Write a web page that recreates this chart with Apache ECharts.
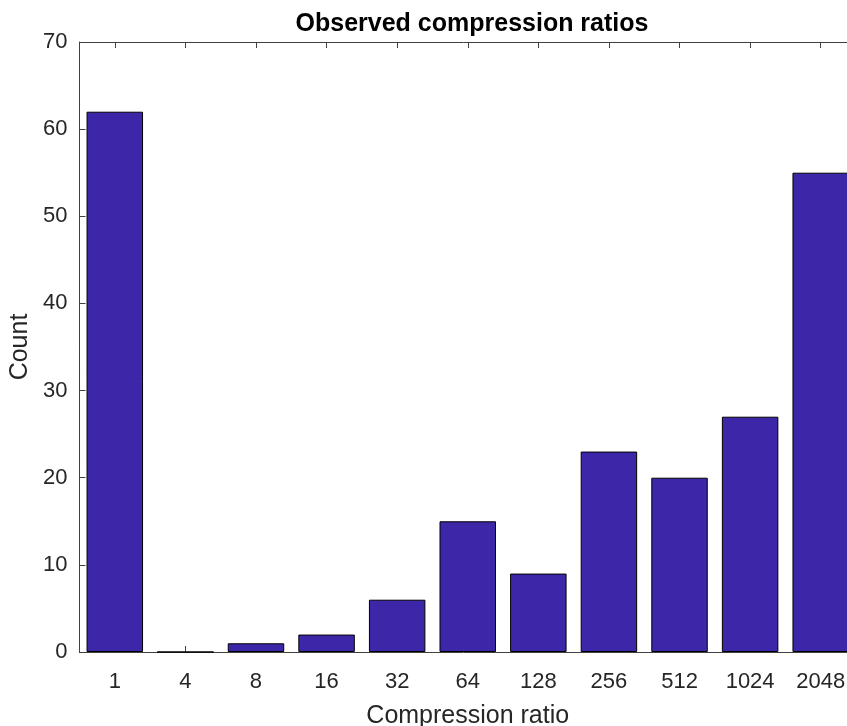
<!DOCTYPE html>
<html>
<head>
<meta charset="utf-8">
<script src="https://cdn.jsdelivr.net/npm/echarts@6/dist/echarts.min.js"></script>
<style>
  html, body { margin: 0; padding: 0; background: #ffffff; }
  #chart { width: 847px; height: 726px; }
</style>
</head>
<body>
<div id="chart"></div>
<script>
// Histogram of observed compression ratios (power-of-two bins)
const ratioLabels = ['1', '4', '8', '16', '32', '64', '128', '256', '512', '1024', '2048'];
const counts = [62, 0, 1, 2, 6, 15, 9, 23, 20, 27, 55];
const yTicks = { min: 0, max: 70, interval: 10 };

const axisColor = '#404040';
const textColor = '#262626';
const fontFamily = 'Liberation Sans, Arial, Helvetica, sans-serif';

const chart = echarts.init(document.getElementById('chart'), null, { renderer: 'canvas' });

// Frame lines: axes stay on the plot box edges instead of snapping to zero
const frameLine = { show: true, onZero: false, lineStyle: { color: axisColor, width: 1 } };
const innerTick = { show: true, inside: true, length: 6, lineStyle: { color: axisColor } };

chart.setOption({
  animation: false,
  backgroundColor: '#ffffff',
  title: {
    text: 'Observed compression ratios',
    left: 467,
    textAlign: 'center',
    top: 7,
    textStyle: { fontFamily, fontSize: 25, fontWeight: 'bold', color: '#000000' }
  },
  grid: {
    left: 79.5, top: 42, width: 776.5, bottom: 74,
    containLabel: false,
    outerBoundsMode: 'none'
  },
  xAxis: [
    {
      type: 'category',
      data: ratioLabels,
      position: 'bottom',
      name: 'Compression ratio',
      nameLocation: 'middle',
      nameGap: 52,
      nameTextStyle: { fontFamily, fontSize: 25, color: textColor },
      axisLine: frameLine,
      axisTick: Object.assign({ alignWithLabel: true }, innerTick),
      axisLabel: { fontFamily, fontSize: 22, color: textColor, margin: 19, interval: 0 },
      splitLine: { show: false }
    },
    {
      type: 'category',
      data: ratioLabels,
      position: 'top',
      axisLine: frameLine,
      axisTick: Object.assign({ alignWithLabel: true }, innerTick),
      axisLabel: { show: false },
      splitLine: { show: false }
    }
  ],
  yAxis: [
    {
      type: 'value',
      min: yTicks.min,
      max: yTicks.max,
      interval: yTicks.interval,
      position: 'left',
      name: 'Count',
      nameLocation: 'middle',
      nameGap: 46,
      nameTextStyle: { fontFamily, fontSize: 25, color: textColor },
      axisLine: frameLine,
      axisTick: innerTick,
      axisLabel: { fontFamily, fontSize: 22, color: textColor, margin: 12 },
      splitLine: { show: false }
    },
    {
      type: 'value',
      min: yTicks.min,
      max: yTicks.max,
      interval: yTicks.interval,
      position: 'right',
      axisLine: frameLine,
      axisTick: innerTick,
      axisLabel: { show: false },
      splitLine: { show: false }
    }
  ],
  series: [
    {
      type: 'bar',
      data: counts,
      xAxisIndex: 0,
      yAxisIndex: 0,
      barCategoryGap: '20%',
      itemStyle: { color: '#3E26A8', borderColor: '#000000', borderWidth: 1 },
      emphasis: { disabled: true }
    }
  ]
});
</script>
</body>
</html>
